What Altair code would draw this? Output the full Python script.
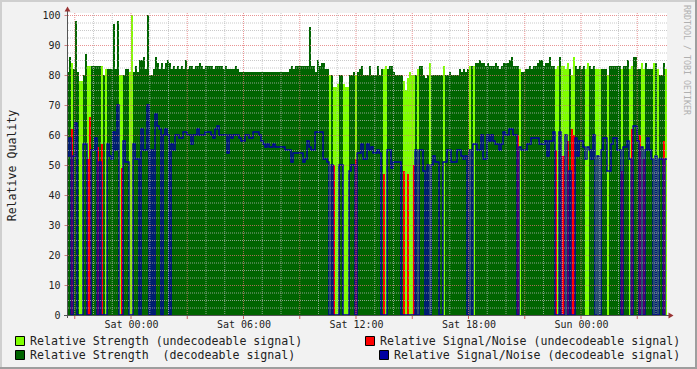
import altair as alt
import pandas as pd

# ---- time axis: minutes relative to Sat 00:00, one sample every 6.4 min ----
t_start = -204.8
t_step = 6.4

# Relative strength per sample
strength = [
    81, 86, 84, 82, 98, 81, 78, 78, 80, 87,
    83, 83, 83, 83, 83, 83, 83, 83, 80, 82,
    82, 82, 82, 97, 82, 98, 80, 80, 80, 82,
    82, 81, 100, 81, 83, 81, 85, 85, 86, 82,
    100, 80, 80, 82, 86, 84, 82, 84, 82, 84,
    85, 84, 82, 83, 82, 83, 82, 83, 82, 85,
    82, 83, 83, 82, 83, 83, 84, 83, 82, 83,
    83, 83, 83, 82, 83, 83, 83, 83, 82, 83,
    82, 82, 82, 82, 83, 82, 81, 81, 81, 81,
    81, 81, 81, 81, 81, 81, 81, 81, 81, 81,
    81, 81, 81, 81, 81, 81, 81, 81, 81, 81,
    81, 82, 83, 82, 83, 83, 83, 83, 83, 83,
    83, 96, 83, 83, 81, 85, 83, 84, 84, 82,
    82, 80, 80, 76, 76, 77, 80, 80, 77, 76,
    76, 80, 80, 81, 80, 81, 82, 83, 80, 80,
    80, 83, 80, 80, 80, 83, 80, 82, 82, 83,
    82, 83, 83, 81, 80, 80, 80, 80, 78, 75,
    79, 81, 80, 80, 80, 82, 83, 83, 80, 79,
    80, 84, 80, 80, 80, 80, 80, 80, 83, 80,
    80, 81, 80, 80, 80, 80, 82, 81, 82, 81,
    82, 83, 83, 83, 84, 84, 85, 84, 84, 83,
    84, 83, 83, 83, 84, 83, 82, 83, 84, 84,
    84, 85, 86, 83, 83, 83, 82, 81, 81, 82,
    82, 83, 82, 83, 83, 84, 85, 85, 83, 84,
    84, 86, 83, 83, 82, 83, 86, 83, 83, 82,
    84, 82, 80, 86, 83, 82, 83, 82, 83, 82,
    84, 83, 82, 83, 82, 82, 82, 82, 82, 82,
    80, 83, 83, 83, 83, 83, 83, 82, 83, 83,
    85, 82, 83, 86, 86, 82, 82, 84, 82, 84,
    82, 82, 82, 84, 84, 82, 80, 80, 84, 82,
]

# 1 = decodeable signal, 0 = undecodeable
decodeable = [
    1, 1, 0, 1, 1, 1, 0, 0, 1, 1,
    0, 0, 1, 1, 1, 1, 1, 0, 1, 0,
    1, 1, 1, 1, 1, 1, 0, 0, 1, 1,
    1, 0, 0, 1, 1, 1, 1, 1, 1, 1,
    1, 1, 1, 1, 1, 1, 1, 1, 1, 1,
    1, 1, 1, 1, 1, 1, 1, 1, 1, 1,
    1, 1, 1, 1, 1, 1, 1, 1, 1, 1,
    1, 1, 1, 1, 1, 1, 1, 1, 1, 1,
    1, 1, 1, 1, 1, 1, 1, 1, 1, 1,
    1, 1, 1, 1, 1, 1, 1, 1, 1, 1,
    1, 1, 1, 1, 1, 1, 1, 1, 1, 1,
    1, 1, 1, 1, 1, 1, 1, 1, 1, 1,
    1, 1, 1, 1, 1, 1, 1, 1, 1, 1,
    1, 0, 1, 0, 0, 0, 1, 1, 0, 0,
    0, 1, 1, 1, 0, 1, 1, 1, 1, 1,
    1, 1, 1, 1, 1, 1, 1, 1, 0, 0,
    1, 1, 1, 1, 1, 1, 1, 1, 0, 0,
    0, 0, 0, 0, 1, 0, 1, 1, 1, 1,
    1, 0, 1, 1, 1, 1, 1, 1, 0, 1,
    1, 1, 1, 1, 1, 1, 1, 1, 1, 1,
    1, 0, 1, 0, 1, 1, 1, 1, 1, 1,
    1, 1, 1, 1, 1, 1, 1, 1, 1, 1,
    1, 1, 1, 1, 1, 1, 0, 1, 1, 1,
    1, 1, 1, 1, 1, 1, 1, 1, 1, 1,
    1, 1, 1, 1, 0, 0, 1, 0, 0, 0,
    0, 1, 0, 0, 1, 1, 1, 1, 1, 0,
    0, 1, 1, 1, 0, 0, 0, 1, 1, 1,
    0, 1, 1, 1, 1, 1, 1, 0, 1, 1,
    1, 0, 0, 1, 1, 1, 1, 0, 0, 1,
    1, 1, 1, 0, 1, 0, 1, 1, 1, 0,
]

# Relative Signal/Noise (decodeable signal)
snr_decodeable = [
    53, 59, 0, 53, 64, 0, 0, 0, 57, 57,
    0, 0, 55, 55, 59, 0, 51, 0, 0, 0,
    57, 53, 52, 61, 55, 70, 0, 0, 58, 51,
    51, 0, 0, 57, 52, 52, 0, 62, 55, 55,
    70, 0, 55, 0, 67, 63, 62, 0, 60, 62,
    60, 0, 57, 55, 60, 60, 59, 59, 61, 61,
    60, 60, 57, 60, 60, 62, 60, 60, 60, 61,
    61, 61, 60, 59, 62, 63, 60, 60, 60, 60,
    54, 60, 59, 60, 60, 60, 59, 58, 58, 60,
    60, 59, 59, 61, 61, 61, 60, 58, 57, 56,
    57, 56, 56, 57, 56, 56, 56, 56, 56, 55,
    55, 55, 51, 54, 54, 54, 54, 54, 51, 52,
    58, 56, 55, 55, 61, 61, 61, 61, 52, 52,
    51, 0, 50, 0, 0, 0, 50, 50, 0, 0,
    0, 48, 50, 50, 0, 54, 54, 57, 52, 52,
    57, 55, 56, 54, 54, 55, 54, 0, 0, 0,
    55, 55, 49, 51, 51, 51, 51, 0, 0, 0,
    0, 0, 0, 0, 55, 0, 55, 55, 48, 0,
    50, 0, 50, 53, 51, 51, 0, 0, 51, 51,
    55, 55, 51, 51, 51, 55, 55, 53, 52, 53,
    0, 55, 0, 57, 57, 55, 55, 60, 52, 52,
    60, 58, 60, 58, 57, 57, 55, 57, 61, 60,
    60, 62, 62, 60, 60, 0, 56, 55, 55, 55,
    57, 57, 59, 59, 59, 59, 57, 57, 57, 58,
    53, 58, 58, 61, 0, 0, 61, 0, 0, 60,
    0, 48, 0, 0, 59, 53, 58, 58, 56, 52,
    56, 55, 52, 60, 0, 53, 0, 55, 59, 59,
    48, 48, 57, 59, 59, 55, 55, 0, 56, 56,
    58, 52, 0, 63, 63, 58, 0, 56, 0, 55,
    59, 55, 52, 0, 53, 0, 52, 52, 0, 52,
]

# Relative Signal/Noise (undecodeable signal)
snr_undecodeable = [
    0, 0, 62, 0, 0, 0, 0, 0, 0, 0,
    52, 66, 0, 0, 0, 56, 0, 57, 0, 0,
    0, 0, 0, 0, 0, 0, 0, 49, 0, 0,
    0, 0, 0, 0, 0, 0, 0, 0, 0, 0,
    0, 0, 0, 0, 0, 0, 0, 0, 0, 0,
    0, 0, 0, 0, 0, 0, 0, 0, 0, 0,
    0, 0, 0, 0, 0, 0, 0, 0, 0, 0,
    0, 0, 0, 0, 0, 0, 0, 0, 0, 0,
    0, 0, 0, 0, 0, 0, 0, 0, 0, 0,
    0, 0, 0, 0, 0, 0, 0, 0, 0, 0,
    0, 0, 0, 0, 0, 0, 0, 0, 0, 0,
    0, 0, 0, 0, 0, 0, 0, 0, 0, 0,
    0, 0, 0, 0, 0, 0, 0, 0, 0, 0,
    0, 0, 0, 50, 0, 0, 0, 0, 0, 0,
    0, 0, 0, 0, 52, 0, 0, 0, 0, 0,
    0, 0, 0, 0, 0, 0, 0, 0, 47, 0,
    0, 0, 0, 0, 0, 0, 0, 0, 48, 0,
    47, 0, 0, 50, 0, 0, 0, 0, 0, 0,
    0, 0, 0, 0, 0, 0, 0, 0, 0, 0,
    0, 0, 0, 0, 0, 0, 0, 0, 0, 0,
    0, 0, 0, 0, 0, 0, 0, 0, 0, 0,
    0, 0, 0, 0, 0, 0, 0, 0, 0, 0,
    0, 0, 0, 0, 0, 60, 0, 0, 0, 0,
    0, 0, 0, 0, 0, 0, 0, 0, 0, 0,
    0, 0, 0, 0, 55, 0, 0, 53, 53, 0,
    58, 0, 62, 60, 0, 0, 0, 0, 0, 0,
    0, 0, 0, 0, 0, 0, 0, 0, 0, 0,
    0, 0, 0, 0, 0, 0, 0, 48, 0, 0,
    0, 0, 62, 0, 0, 0, 60, 0, 52, 0,
    0, 0, 0, 0, 0, 0, 0, 0, 58, 0,
]

tick_minutes = [0, 360, 720, 1080, 1440]
tick_labels = ["Sat 00:00", "Sat 06:00", "Sat 12:00", "Sat 18:00", "Sun 00:00"]
y_ticks = [0, 10, 20, 30, 40, 50, 60, 70, 80, 90, 100]

legend_labels = [
    "Relative Strength (undecodeable signal)",
    "Relative Signal/Noise (undecodeable signal)",
    "Relative Strength\u00a0 (decodeable signal)",
    "Relative Signal/Noise (decodeable signal)",
]

LIGHT = "#80ff00"
DARK = "#006400"
RED = "#ff0000"
BLUE = "#0000a0"
ARROW = "#993333"
FONT = "DejaVu Sans Mono"
TXT = "#222222"

# ---- build table ----
n = len(strength)
rows = []
for i in range(n + 1):
    j = min(i, n - 1)
    d = decodeable[j]
    rows.append({
        "t": t_start + i * t_step,
        "dark": strength[j] if d else 0,
        "light": 0 if d else strength[j],
        "red": snr_undecodeable[j],
        "blue": snr_decodeable[j],
    })
df = pd.DataFrame(rows)
t_end = t_start + n * t_step

W, H = 600, 302
L0, T0 = 67, 13  # plot origin in page pixels

xs = alt.Scale(domain=[t_start, t_end], nice=False, zero=False)
ys = alt.Scale(domain=[0, 100.67], nice=False, zero=True)

label_expr = "[" + ",".join("'%s'" % s for s in tick_labels) + "][round(datum.value/360)]"

x_axis = alt.Axis(values=tick_minutes, labelExpr=label_expr, title=None, grid=False,
                  ticks=False, domain=False, labelFont=FONT, labelFontSize=10,
                  labelColor=TXT, labelPadding=4, labelFlush=False, labelOverlap=False)
y_axis = alt.Axis(values=y_ticks, title="Relative Quality", grid=False, ticks=True,
                  tickSize=3, tickColor="#d08080", domain=False, labelFont=FONT,
                  labelFontSize=10, labelColor=TXT, labelPadding=4,
                  titleFont=FONT, titleFontSize=11.6, titleFontWeight="normal",
                  titleColor=TXT, titleX=-55, titleY=152, titleAngle=270,
                  titleAlign="center", titleBaseline="middle")

X = alt.X("t:Q", scale=xs, axis=x_axis)
base = alt.Chart(df)
light_area = base.mark_area(interpolate="step-after", color=LIGHT).encode(
    x=X, y=alt.Y("light:Q", scale=ys, axis=y_axis))
dark_area = base.mark_area(interpolate="step-after", color=DARK).encode(
    x=X, y=alt.Y("dark:Q", scale=ys, axis=y_axis))
red_area = base.mark_area(interpolate="step-after", color=RED).encode(
    x=X, y=alt.Y("red:Q", scale=ys, axis=y_axis))
blue_line = base.mark_line(interpolate="step-after", color=BLUE, strokeWidth=1.4).encode(
    x=X, y=alt.Y("blue:Q", scale=ys, axis=y_axis))

# ---- grid ----
h_minor = pd.DataFrame({"t": [0.0], "h": [k * 2.5 for k in range(1, 41) if k % 4][:1]})
h_minor = pd.DataFrame({"h": [k * 2.5 for k in range(1, 41) if k % 4]})
h_major = pd.DataFrame({"h": [k * 10 for k in range(1, 11)]})
v_minor = pd.DataFrame({"t": [m for m in range(-180, 1716, 60) if m % 180]})
v_major = pd.DataFrame({"t": list(range(-180, 1716, 180))})

g_hmin = alt.Chart(h_minor).mark_rule(color="#b8b8b8", strokeDash=[1, 1], opacity=0.75,
                                      yOffset=0.5).encode(y=alt.Y("h:Q", scale=ys, axis=y_axis))
g_hmaj = alt.Chart(h_major).mark_rule(color="#e07070", strokeDash=[1, 1], opacity=0.75,
                                      yOffset=0.5).encode(y=alt.Y("h:Q", scale=ys, axis=y_axis))
g_vmin = alt.Chart(v_minor).mark_rule(color="#b8b8b8", strokeDash=[1, 1], opacity=0.75).encode(x=X)
g_vmaj = alt.Chart(v_major).mark_rule(color="#e07070", strokeDash=[1, 1], opacity=0.75).encode(x=X)
g_vtick = alt.Chart(v_major).mark_rule(color="#d06060").encode(
    x=X, y=alt.value(H + 1), y2=alt.value(H + 4))

one = pd.DataFrame({"k": [0]})

# axis lines and arrows
ax_y = alt.Chart(one).mark_rule(color="#555555").encode(
    x=alt.value(0.5), y=alt.value(-3), y2=alt.value(H + 3))
ax_x = alt.Chart(one).mark_rule(color="#555555").encode(
    x=alt.value(-3), x2=alt.value(W + 2), y=alt.value(H + 0.5))
arr_up = alt.Chart(one).mark_point(shape="triangle-up", filled=True, size=34, color=ARROW,
                                   opacity=1).encode(x=alt.value(0.5), y=alt.value(-4))
arr_rt = alt.Chart(one).mark_point(shape="triangle-right", filled=True, size=34, color=ARROW,
                                   opacity=1).encode(x=alt.value(W + 4), y=alt.value(H + 0.5))

# legend
leg_colors = [LIGHT, RED, DARK, BLUE]
leg_square_x = [15, 365, 15, 379]
leg_text_x = [30, 380, 30, 394]
leg_row_top = [336, 336, 350, 350]
leg_layers = []
for lab, col, sx, tx, top in zip(legend_labels, leg_colors, leg_square_x, leg_text_x, leg_row_top):
    leg_layers.append(alt.Chart(one).mark_rect(fill=col, stroke="#000000", strokeWidth=1).encode(
        x=alt.value(sx - L0 + 0.5), x2=alt.value(sx - L0 + 9.5),
        y=alt.value(top - T0 + 0.5), y2=alt.value(top - T0 + 9.5)))
    leg_layers.append(alt.Chart(one).mark_text(align="left", baseline="alphabetic", font=FONT,
                                               fontSize=11.6, color=TXT).encode(
        x=alt.value(tx - L0), y=alt.value(top + 9 - T0), text=alt.value(lab)))

watermark = alt.Chart(one).mark_text(angle=90, align="left", baseline="middle", font=FONT,
                                     fontSize=8.3, color="#b0b0b0").encode(
    x=alt.value(686 - L0), y=alt.value(5 - T0), text=alt.value("RRDTOOL / TOBI OETIKER"))

# frame (3D border)
def band(x1, x2, y1, y2, col):
    return alt.Chart(one).mark_rect(color=col).encode(
        x=alt.value(x1 - L0), x2=alt.value(x2 - L0), y=alt.value(y1 - T0), y2=alt.value(y2 - T0))

frame = [band(0, 697, 0, 2, "#cfcfcf"), band(0, 2, 0, 369, "#cfcfcf"),
         band(0, 697, 367, 369, "#9e9e9e"), band(695, 697, 0, 369, "#9e9e9e")]

chart = alt.layer(
    light_area, dark_area, red_area, blue_line,
    g_hmin, g_hmaj, g_vmin, g_vmaj, g_vtick,
    ax_y, ax_x, arr_up, arr_rt, watermark, *leg_layers, *frame,
).properties(
    width=W, height=H,
    background="#f2f2f2",
    padding={"left": L0, "top": T0, "right": 697 - L0 - W, "bottom": 369 - T0 - H},
    autosize=alt.AutoSizeParams(type="none"),
).configure_view(stroke=None, fill="white")

chart.save("out.html", embed_options={"renderer": "svg", "actions": False})
